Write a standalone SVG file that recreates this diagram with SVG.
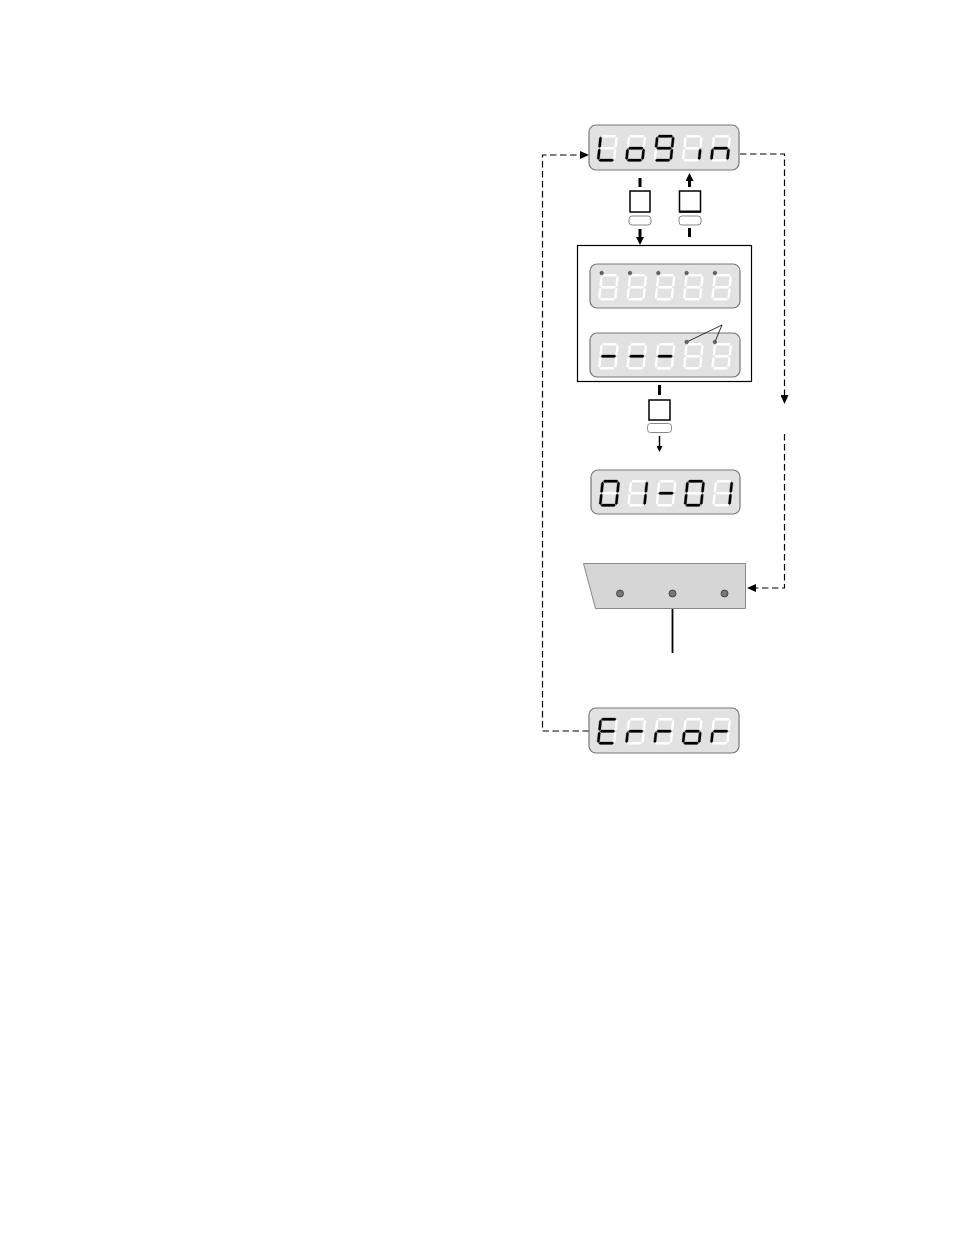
<svg xmlns="http://www.w3.org/2000/svg" xmlns:xlink="http://www.w3.org/1999/xlink" width="954" height="1235" viewBox="0 0 954 1235">
<style>
.disp{fill:#e2e2e2;stroke:#777;stroke-width:1.2}
.on{fill:#000;stroke:#000;stroke-width:0.3}
.dash{fill:none;stroke:#000;stroke-width:1.2;stroke-dasharray:6.5 3.5}
.key{fill:#fff;stroke:#000;stroke-width:1.5}
.cap{fill:#fff;stroke:#888;stroke-width:1}
.thick{stroke:#000;stroke-width:3;fill:none}
.thin{stroke:#000;stroke-width:1.5;fill:none}
.dot{fill:#666;stroke:#333;stroke-width:0.5}
.lead{stroke:#000;stroke-width:0.8;fill:none}
</style>
<defs>
<polygon id="sa" points="0.5,0 1.7,-1.2 14.3,-1.2 15.5,0 14.3,1.2 1.7,1.2"/>
<polygon id="sg" points="0.5,12 1.7,10.8 14.3,10.8 15.5,12 14.3,13.2 1.7,13.2"/>
<polygon id="sd" points="0.5,24 1.7,22.8 14.3,22.8 15.5,24 14.3,25.2 1.7,25.2"/>
<polygon id="sf" points="0,0.5 1.2,1.7 1.2,10.3 0,11.5 -1.2,10.3 -1.2,1.7"/>
<polygon id="se" points="0,12.5 1.2,13.7 1.2,22.3 0,23.5 -1.2,22.3 -1.2,13.7"/>
<polygon id="sb" points="16,0.5 17.2,1.7 17.2,10.3 16,11.5 14.8,10.3 14.8,1.7"/>
<polygon id="sc" points="16,12.5 17.2,13.7 17.2,22.3 16,23.5 14.8,22.3 14.8,13.7"/>
<g id="d8" fill="#fff">
<use href="#sa"/><use href="#sb"/><use href="#sc"/><use href="#sd"/><use href="#se"/><use href="#sf"/><use href="#sg"/>
</g>
<marker id="ah" viewBox="0 0 9 8" refX="0" refY="4" markerWidth="9" markerHeight="8" markerUnits="userSpaceOnUse" orient="auto"><path d="M0,0L9,4L0,8z" fill="#000"/></marker>
<marker id="ahb" viewBox="0 0 8 8" refX="0" refY="4" markerWidth="8" markerHeight="8" markerUnits="userSpaceOnUse" orient="auto"><path d="M0,0L8,4L0,8z" fill="#000"/></marker>
<marker id="ahs" viewBox="0 0 6 6" refX="0" refY="3" markerWidth="6" markerHeight="6" markerUnits="userSpaceOnUse" orient="auto"><path d="M0,0L6,3L0,6z" fill="#000"/></marker>
</defs>
<rect width="954" height="1235" fill="#fff"/>

<g id="connectors">
<path class="dash" d="M740,154 H784.5 V395" marker-end="url(#ah)"/>
<path class="dash" d="M784.5,434 V588 H756" marker-end="url(#ah)"/>
<path class="dash" d="M589,731 H542.5 V155 H580" marker-end="url(#ah)"/>
<line class="thick" x1="640" y1="178" x2="640" y2="187"/>
<line class="thick" x1="640" y1="229" x2="640" y2="237" marker-end="url(#ahb)"/>
<line class="thick" x1="689.5" y1="187" x2="689.5" y2="181" marker-end="url(#ahb)"/>
<line class="thick" x1="689.5" y1="228" x2="689.5" y2="237"/>
<line class="thick" x1="659.5" y1="385" x2="659.5" y2="395"/>
<line class="thin" x1="659.5" y1="436" x2="659.5" y2="446" marker-end="url(#ahs)"/>
<line x1="672.5" y1="602" x2="672.5" y2="653" stroke="#000" stroke-width="1.8"/>
</g>

<g id="key-left">
<rect class="key" x="630" y="191" width="20" height="21"/>
<rect class="cap" x="629" y="216" width="22" height="9" rx="3"/>
</g>
<g id="key-right">
<rect class="key" x="679.5" y="191" width="21" height="21"/>
<line x1="679.5" y1="211.5" x2="700.5" y2="211.5" stroke="#000" stroke-width="2"/>
<rect class="cap" x="679" y="216" width="22" height="9" rx="3"/>
</g>
<g id="key-bottom">
<rect class="key" x="649" y="400" width="21" height="20"/>
<rect class="cap" x="647.5" y="423.5" width="24" height="9" rx="3"/>
</g>

<g id="display-login" transform="translate(589,125)">
<rect class="disp" x="0" y="0" width="150" height="45" rx="7"/>
<g transform="translate(11.7,11.2) skewX(-6)"><use href="#d8"/><use href="#sd" class="on"/><use href="#se" class="on"/><use href="#sf" class="on"/></g>
<g transform="translate(40,11.2) skewX(-6)"><use href="#d8"/><use href="#sc" class="on"/><use href="#sd" class="on"/><use href="#se" class="on"/><use href="#sg" class="on"/></g>
<g transform="translate(68.3,11.2) skewX(-6)"><use href="#d8"/><use href="#sa" class="on"/><use href="#sb" class="on"/><use href="#sc" class="on"/><use href="#sd" class="on"/><use href="#sf" class="on"/><use href="#sg" class="on"/></g>
<g transform="translate(96.6,11.2) skewX(-6)"><use href="#d8"/><use href="#sc" class="on"/></g>
<g transform="translate(124.9,11.2) skewX(-6)"><use href="#d8"/><use href="#sc" class="on"/><use href="#se" class="on"/><use href="#sg" class="on"/></g>
</g>

<g id="panel">
<rect x="577.5" y="245.5" width="174" height="136" fill="#fff" stroke="#000" stroke-width="1.2"/>
<g id="display-top" transform="translate(590,264)">
<rect class="disp" x="0" y="0" width="150" height="44" rx="7"/>
<g transform="translate(11.7,11.2) skewX(-6)"><use href="#d8"/></g>
<g transform="translate(40,11.2) skewX(-6)"><use href="#d8"/></g>
<g transform="translate(68.3,11.2) skewX(-6)"><use href="#d8"/></g>
<g transform="translate(96.6,11.2) skewX(-6)"><use href="#d8"/></g>
<g transform="translate(124.9,11.2) skewX(-6)"><use href="#d8"/></g>
<circle class="dot" cx="11.7" cy="9" r="1.8"/>
<circle class="dot" cx="40" cy="9" r="1.8"/>
<circle class="dot" cx="68.3" cy="9" r="1.8"/>
<circle class="dot" cx="96.6" cy="9" r="1.8"/>
<circle class="dot" cx="124.9" cy="9" r="1.8"/>
</g>
<g id="display-bottom" transform="translate(590,333)">
<rect class="disp" x="0" y="0" width="150" height="44" rx="7"/>
<g transform="translate(11.7,11.2) skewX(-6)"><use href="#d8"/><use href="#sg" class="on"/></g>
<g transform="translate(40,11.2) skewX(-6)"><use href="#d8"/><use href="#sg" class="on"/></g>
<g transform="translate(68.3,11.2) skewX(-6)"><use href="#d8"/><use href="#sg" class="on"/></g>
<g transform="translate(96.6,11.2) skewX(-6)"><use href="#d8"/></g>
<g transform="translate(124.9,11.2) skewX(-6)"><use href="#d8"/></g>
<polyline class="lead" points="96.6,9 132,-8 124.9,9"/>
<circle class="dot" cx="96.6" cy="9" r="1.8"/>
<circle class="dot" cx="124.9" cy="9" r="1.8"/>
</g>
</g>

<g id="display-0101" transform="translate(591,470)">
<rect class="disp" x="0" y="0" width="149" height="44" rx="7"/>
<g transform="translate(11.7,11.2) skewX(-6)"><use href="#d8"/><use href="#sa" class="on"/><use href="#sb" class="on"/><use href="#sc" class="on"/><use href="#sd" class="on"/><use href="#se" class="on"/><use href="#sf" class="on"/></g>
<g transform="translate(40,11.2) skewX(-6)"><use href="#d8"/><use href="#sb" class="on"/><use href="#sc" class="on"/></g>
<g transform="translate(68.3,11.2) skewX(-6)"><use href="#d8"/><use href="#sg" class="on"/></g>
<g transform="translate(96.6,11.2) skewX(-6)"><use href="#d8"/><use href="#sa" class="on"/><use href="#sb" class="on"/><use href="#sc" class="on"/><use href="#sd" class="on"/><use href="#se" class="on"/><use href="#sf" class="on"/></g>
<g transform="translate(124.9,11.2) skewX(-6)"><use href="#d8"/><use href="#sb" class="on"/><use href="#sc" class="on"/></g>
</g>

<g id="connector-block">
<polygon points="583.5,563.5 745.5,563.5 745.5,608.5 595.5,608.5" fill="#d6d6d6" stroke="#888" stroke-width="1"/>
<circle cx="620" cy="593.5" r="3.5" fill="#777" stroke="#333" stroke-width="0.8"/>
<circle cx="672.5" cy="593.5" r="3.5" fill="#777" stroke="#333" stroke-width="0.8"/>
<circle cx="724.5" cy="593.5" r="3.5" fill="#777" stroke="#333" stroke-width="0.8"/>
</g>

<g id="display-error" transform="translate(589,708)">
<rect class="disp" x="0" y="0" width="150" height="45" rx="7"/>
<g transform="translate(11.7,11.2) skewX(-6)"><use href="#d8"/><use href="#sa" class="on"/><use href="#sd" class="on"/><use href="#se" class="on"/><use href="#sf" class="on"/><use href="#sg" class="on"/></g>
<g transform="translate(40,11.2) skewX(-6)"><use href="#d8"/><use href="#se" class="on"/><use href="#sg" class="on"/></g>
<g transform="translate(68.3,11.2) skewX(-6)"><use href="#d8"/><use href="#se" class="on"/><use href="#sg" class="on"/></g>
<g transform="translate(96.6,11.2) skewX(-6)"><use href="#d8"/><use href="#sc" class="on"/><use href="#sd" class="on"/><use href="#se" class="on"/><use href="#sg" class="on"/></g>
<g transform="translate(124.9,11.2) skewX(-6)"><use href="#d8"/><use href="#se" class="on"/><use href="#sg" class="on"/></g>
</g>
</svg>
